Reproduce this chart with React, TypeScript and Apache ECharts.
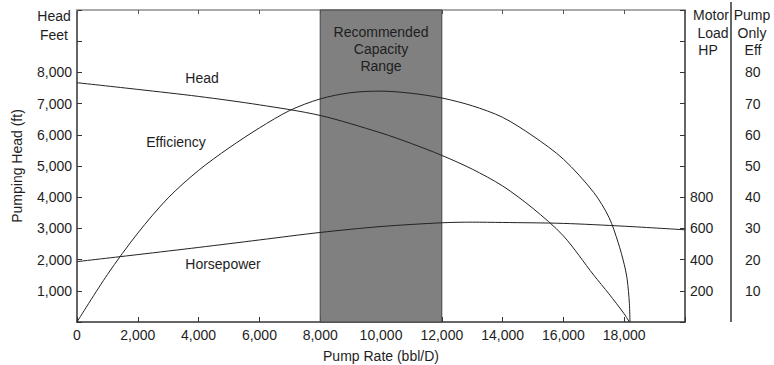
import React, { useEffect, useRef } from "react";
import * as echarts from "echarts";

// Pump rate (bbl/D) vs pumping head (ft)
const headData: [number, number][] = [
  [0, 7670], [2000, 7455], [4000, 7230], [6000, 6960], [8000, 6620], [10000, 6060],
  [11000, 5720], [12000, 5340], [13000, 4900], [14000, 4360], [15000, 3640], [16000, 2760],
  [17000, 1500], [17500, 900], [18000, 260], [18170, 0],
];
// Pump rate vs pump-only efficiency (%)
const effData: [number, number][] = [
  [0, 0], [1000, 15.2], [2000, 28.5], [3000, 39.8], [4000, 48.6], [5000, 55.8], [6000, 62.2],
  [7000, 67.8], [8000, 71.5], [9000, 73.5], [10000, 74], [11000, 73.3], [12000, 71.8],
  [13000, 69.3], [14000, 65.6], [15000, 59.6], [16000, 52.2], [17000, 41.5], [17500, 33.5],
  [17800, 25.5], [18000, 18.5], [18100, 13.5], [18170, 6], [18190, 0],
];
// Pump rate vs motor load (HP)
const hpData: [number, number][] = [
  [0, 387], [2000, 432], [4000, 478], [6000, 526], [8000, 574], [10000, 612], [12000, 636],
  [13000, 640], [14000, 638], [16000, 632], [18000, 614], [20000, 591],
];
const capacityRange = [8000, 12000];
const rateMax = 20000;
const headMax = 10000;
const hpMax = 2000;
const effMax = 100;

const FONT = "'Liberation Sans', Arial, Helvetica, sans-serif";
const TXT = "#1e1e1e";
const FS = 14;

export default function App() {
  const ref = useRef<HTMLDivElement>(null);
  useEffect(() => {
    const chart = echarts.init(ref.current!, null, { renderer: "svg", width: 774, height: 365 });
    const txt = (text: string, x: number, y: number, align = "center") => ({
      type: "text",
      x,
      y,
      style: { text, fill: TXT, font: `${FS}px ${FONT}`, textAlign: align, textVerticalAlign: "middle" },
    });
    chart.setOption({
      animation: false,
      backgroundColor: "#ffffff",
      textStyle: { fontFamily: FONT },
      grid: { left: 77, width: 608, top: 10, height: 312, containLabel: false, outerBoundsMode: "none" },
      xAxis: [
        {
          type: "value", min: 0, max: rateMax, interval: 2000, position: "bottom",
          axisLine: { show: true, onZero: false, lineStyle: { color: "#333", width: 1.5 } },
          axisTick: { show: true, inside: true, length: 5, lineStyle: { color: "#333" } },
          axisLabel: {
            color: TXT, fontSize: FS, fontFamily: FONT, margin: 6,
            formatter: (v: number) => (v >= rateMax ? "" : v.toLocaleString("en-US")),
          },
          splitLine: { show: false },
          name: "Pump Rate (bbl/D)", nameLocation: "middle", nameGap: 27,
          nameTextStyle: { color: TXT, fontSize: FS, fontFamily: FONT },
        },
        {
          type: "value", min: 0, max: rateMax, interval: 2000, position: "top",
          axisLine: { show: true, onZero: false, lineStyle: { color: "#aaa", width: 2 } },
          axisTick: { show: true, inside: true, length: 4, lineStyle: { color: "#555" } },
          axisLabel: { show: false },
          splitLine: { show: false },
        },
      ],
      yAxis: [
        {
          type: "value", min: 0, max: headMax, interval: 1000, position: "left",
          axisLine: { show: true, onZero: false, lineStyle: { color: "#333", width: 1.5 } },
          axisTick: { show: true, inside: true, length: 5, lineStyle: { color: "#333" } },
          axisLabel: {
            color: TXT, fontSize: FS, fontFamily: FONT, margin: 5,
            formatter: (v: number) => (v === 0 || v > 8000 ? "" : v.toLocaleString("en-US")),
          },
          splitLine: { show: false },
          name: "Pumping Head (ft)", nameLocation: "middle", nameGap: 53, nameRotate: 90,
          nameTextStyle: { color: TXT, fontSize: FS, fontFamily: FONT },
        },
        {
          type: "value", min: 0, max: hpMax, interval: 200, position: "right",
          axisLine: { show: true, onZero: false, lineStyle: { color: "#333", width: 1.5 } },
          axisTick: { show: true, inside: true, length: 5, lineStyle: { color: "#333" } },
          axisLabel: {
            color: TXT, fontSize: FS, fontFamily: FONT, margin: 5,
            formatter: (v: number) => (v >= 200 && v <= 800 ? String(v) : ""),
          },
          splitLine: { show: false },
        },
        {
          type: "value", min: 0, max: effMax, interval: 10, position: "right", offset: 46,
          axisLine: { show: false, onZero: false },
          axisTick: { show: false },
          axisLabel: {
            color: TXT, fontSize: FS, fontFamily: FONT, margin: 14,
            formatter: (v: number) => (v >= 10 && v <= 80 ? String(v) : ""),
          },
          splitLine: { show: false },
        },
      ],
      series: [
        {
          name: "Head", type: "line", xAxisIndex: 0, yAxisIndex: 0, data: headData,
          smooth: 0.3, symbol: "none", z: 3,
          lineStyle: { color: "#222", width: 1 },
          markArea: {
            silent: true,
            itemStyle: { color: "#808080", borderColor: "#444", borderWidth: 1 },
            label: {
              show: true, position: "insideTop", distance: 14,
              formatter: "Recommended\nCapacity\nRange",
              color: TXT, fontSize: FS, fontFamily: FONT, lineHeight: 17, align: "center",
            },
            data: [[{ xAxis: capacityRange[0] }, { xAxis: capacityRange[1] }]],
          },
        },
        {
          name: "Efficiency", type: "line", xAxisIndex: 0, yAxisIndex: 2, data: effData,
          smooth: 0.3, symbol: "none", z: 3,
          lineStyle: { color: "#222", width: 1 },
        },
        {
          name: "Horsepower", type: "line", xAxisIndex: 0, yAxisIndex: 1, data: hpData,
          smooth: 0.3, symbol: "none", z: 3,
          lineStyle: { color: "#222", width: 1 },
        },
      ],
      graphic: [
        txt("Head", 54, 16),
        txt("Feet", 54, 35),
        txt("Motor", 711, 15),
        txt("Load", 713, 33),
        txt("HP", 708, 50),
        txt("Pump", 752, 15),
        txt("Only", 752, 33),
        txt("Eff", 753, 50),
        {
          type: "line",
          shape: { x1: 731, y1: 2, x2: 731, y2: 322 },
          style: { stroke: "#333", lineWidth: 1.5 },
        },
        txt("Head", 202, 78),
        txt("Efficiency", 176, 142),
        txt("Horsepower", 223, 264),
      ],
    });
    return () => chart.dispose();
  }, []);
  return (
    <div
      ref={ref}
      style={{ position: "absolute", left: 0, top: 0, width: 774, height: 365, background: "#fff" }}
    />
  );
}
